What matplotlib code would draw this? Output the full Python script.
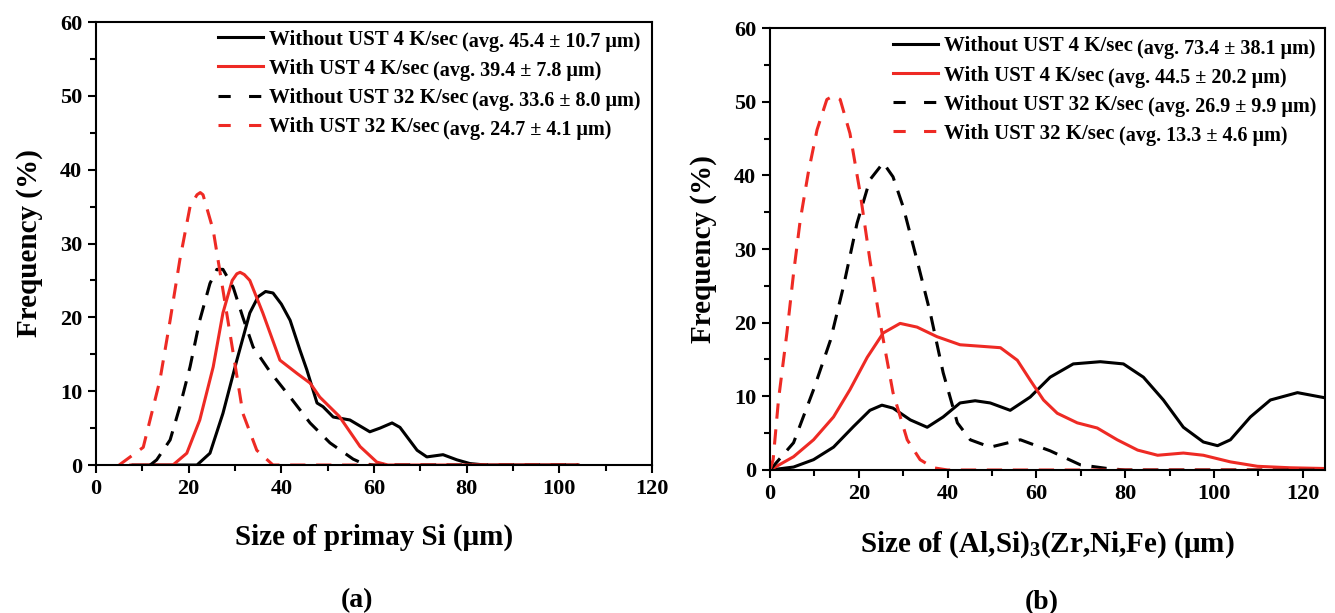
import numpy as np
import matplotlib
matplotlib.use('Agg')
import matplotlib.pyplot as plt
from matplotlib.ticker import MultipleLocator

plt.rcParams['font.family'] = ['Liberation Serif', 'DejaVu Serif']
plt.rcParams['font.weight'] = 'bold'
plt.rcParams['mathtext.fontset'] = 'custom'
plt.rcParams['mathtext.rm'] = 'Liberation Serif:bold'
plt.rcParams['mathtext.it'] = 'Liberation Serif:bold'
plt.rcParams['mathtext.bf'] = 'Liberation Serif:bold'

BLACK = '#000000'
RED = '#ee2a24'

# (a) primary Si size distribution
a_wo4_x = [8, 20, 21.8, 24.6, 27.4, 30.4, 33.2, 35, 36.6, 38.2, 40, 41.9, 44, 45.5, 47.7, 49,
           51.2, 54.8, 59.1, 61.3, 63.9, 65.6, 69.3, 71.4, 74.9, 77.9, 80.7, 84, 104]
a_wo4_y = [0, 0, 0, 1.6, 7, 14.2, 20.6, 22.8, 23.5, 23.3, 21.8, 19.6, 15.6, 12.9, 8.4, 7.9,
           6.5, 6.1, 4.5, 5, 5.7, 5.1, 2, 1.1, 1.4, 0.7, 0.2, 0, 0]
a_w4_x = [7.5, 16.6, 19.6, 22.4, 25.3, 27.4, 29.4, 30.4, 31.1, 32, 33.2, 36, 39.7, 43.4, 46.2,
          48.3, 52.5, 57, 60.6, 63, 104]
a_w4_y = [0, 0, 1.6, 6.1, 13.3, 20.6, 25, 25.9, 26.1, 25.8, 25, 20.6, 14.2, 12.4, 11.1,
          9.2, 6.6, 2.5, 0.4, 0, 0]
a_wo32_x = [11.7, 13.1, 16, 18.1, 20.3, 22.4, 24.6, 26.1, 27.4, 29.6, 31.7, 33.9, 37.6, 41.9,
            46.2, 50.5, 55.5, 57.6, 60, 104]
a_wo32_y = [0, 0.7, 3.4, 7.9, 13.3, 19.6, 24.6, 26.5, 26.5, 24.1, 20, 16, 12.6, 9.2,
            5.7, 3, 0.8, 0.2, 0, 0]
a_w32_x = [5, 10.2, 13.8, 16, 18.1, 20.3, 21.8, 22.5, 23.1, 25.3, 27.4, 29.6, 31.7, 34.7,
           38.2, 104]
a_w32_y = [0, 2.4, 11.5, 19.6, 27.8, 35, 36.6, 36.9, 36.6, 31.8, 23.7, 15.2, 7, 2,
           0, 0]

# (b) (Al,Si)3(Zr,Ni,Fe) size distribution
b_wo4_x = [0, 5.3, 9.8, 14.3, 18.8, 22.5, 25.2, 27.7, 31.6, 35.4, 39, 42.8, 46.2, 49.6, 54.1,
           58.6, 63.1, 68.3, 74.4, 79.6, 84.1, 88.6, 93.1, 97.6, 100.8, 103.7, 108.2,
           112.7, 118.8, 125]
b_wo4_y = [0, 0.4, 1.4, 3.1, 5.9, 8.1, 8.8, 8.4, 6.8, 5.8, 7.2, 9.1, 9.4, 9.1, 8.1,
           9.9, 12.6, 14.4, 14.7, 14.4, 12.6, 9.5, 5.8, 3.8, 3.3, 4.1, 7.2,
           9.5, 10.5, 9.8]
b_w4_x = [0, 5.3, 9.8, 14.3, 18, 21.9, 25.5, 29.3, 33.1, 37.6, 42.8, 47.4, 51.9, 55.7, 58.6,
          61.6, 64.7, 69.2, 73.7, 78.2, 82.8, 87.3, 93.1, 97.6, 103.7, 109.8, 117.2, 125]
b_w4_y = [0, 1.8, 4.1, 7.2, 10.9, 15.3, 18.6, 19.9, 19.4, 18.1, 17, 16.8, 16.6, 14.9, 12.2,
          9.5, 7.7, 6.4, 5.7, 4.1, 2.7, 2, 2.3, 2, 1.1, 0.5, 0.3, 0.2]
b_wo32_x = [0, 5.3, 9.8, 13.6, 16.5, 19.6, 22.5, 25.5, 27.7, 30, 33.1, 36.1, 39, 42.2, 45.1,
            49.6, 56.4, 63.1, 69.9, 76, 80, 125]
b_wo32_y = [0, 3.7, 10.9, 17.6, 24.8, 33.5, 39.4, 41.7, 39.8, 35.7, 28.5, 21.3, 13.2, 6.4, 4.1,
            3.1, 4.1, 2.6, 0.7, 0.2, 0, 0]
b_w32_x = [0, 0.7, 1.9, 3.8, 5.3, 6.8, 8.6, 10.6, 12.8, 14.3, 15.8, 18, 20.3, 22.5, 24.8, 27.7,
           30.9, 33.8, 36.8, 40, 125]
b_w32_y = [0, 1.4, 9.5, 18.6, 26.7, 33.9, 40.3, 46.2, 50.3, 50.8, 50.3, 45.7, 37.6, 28.5, 20,
           10.5, 4.1, 1.4, 0.3, 0, 0]

labels_a = [('Without UST 4 K/sec', '(avg. 45.4 ± 10.7 μm)'),
            ('With UST 4 K/sec', '(avg. 39.4 ± 7.8 μm)'),
            ('Without UST 32 K/sec', '(avg. 33.6 ± 8.0 μm)'),
            ('With UST 32 K/sec', '(avg. 24.7 ± 4.1 μm)')]
labels_b = [('Without UST 4 K/sec', '(avg. 73.4 ± 38.1 μm)'),
            ('With UST 4 K/sec', '(avg. 44.5 ± 20.2 μm)'),
            ('Without UST 32 K/sec', '(avg. 26.9 ± 9.9 μm)'),
            ('With UST 32 K/sec', '(avg. 13.3 ± 4.6 μm)')]

colors = [BLACK, RED, BLACK, RED]
dashed = [False, False, True, True]


def draw_panel(ax, series, labels, xmax, xlabel, caption, leg_x, leg_y, cap_x, cap_y):
    for (x, y), c, d in zip(series, colors, dashed):
        ls = (0, (5, 3.5)) if d else '-'
        ax.plot(x, y, color=c, ls=ls, lw=2.2)
    ax.set_xlim(0, xmax)
    ax.set_ylim(0, 60)
    ax.xaxis.set_major_locator(MultipleLocator(20))
    ax.xaxis.set_minor_locator(MultipleLocator(10))
    ax.yaxis.set_major_locator(MultipleLocator(10))
    ax.yaxis.set_minor_locator(MultipleLocator(5))
    ax.tick_params(which='major', direction='out', length=6, width=1.5, labelsize=16, pad=4)
    ax.tick_params(which='minor', direction='out', length=4, width=1.5)
    for s in ax.spines.values():
        s.set_linewidth(1.5)
    ax.set_xlabel(xlabel, fontsize=21, fontweight='bold', labelpad=18)
    ax.set_ylabel('Frequency (%)', fontsize=21, fontweight='bold', labelpad=12)

    # legend rows: short line sample, bold name, bracketed average
    for i, ((name, avg), c, d) in enumerate(zip(labels, colors, dashed)):
        y = leg_y - i * 0.066
        ls = (0, (4, 6)) if d else '-'
        ax.plot([leg_x, leg_x + 0.081], [y, y], transform=ax.transAxes, color=c, ls=ls,
                lw=2.2, clip_on=False)
        t = ax.text(leg_x + 0.092, y, name, transform=ax.transAxes, fontsize=15,
                    fontweight='bold', ha='left', va='center_baseline')
        ax.annotate(avg, xy=(1, 0.5), xycoords=t, xytext=(4, 0), textcoords='offset pixels',
                    fontsize=14.5, fontweight='bold', ha='left', va='center_baseline')

    ax.text(cap_x, cap_y, caption, transform=ax.transAxes, ha='center', va='center',
            fontsize=20, fontweight='bold')


fig = plt.figure(figsize=(13.35, 6.13), dpi=100)
ax1 = fig.add_axes([0.0719, 0.2414, 0.4165, 0.7227])
ax2 = fig.add_axes([0.5768, 0.2333, 0.4157, 0.7210])

draw_panel(ax1, [(a_wo4_x, a_wo4_y), (a_w4_x, a_w4_y), (a_wo32_x, a_wo32_y), (a_w32_x, a_w32_y)],
           labels_a, 120, 'Size of primay Si (μm)', '(a)', 0.219, 0.966, 0.47, -0.305)
draw_panel(ax2, [(b_wo4_x, b_wo4_y), (b_w4_x, b_w4_y), (b_wo32_x, b_wo32_y), (b_w32_x, b_w32_y)],
           labels_b, 125, 'Size of (Al,Si)$_3$(Zr,Ni,Fe) (μm)', '(b)', 0.222, 0.964, 0.49, -0.30)

fig.savefig('out.png', dpi=100)
